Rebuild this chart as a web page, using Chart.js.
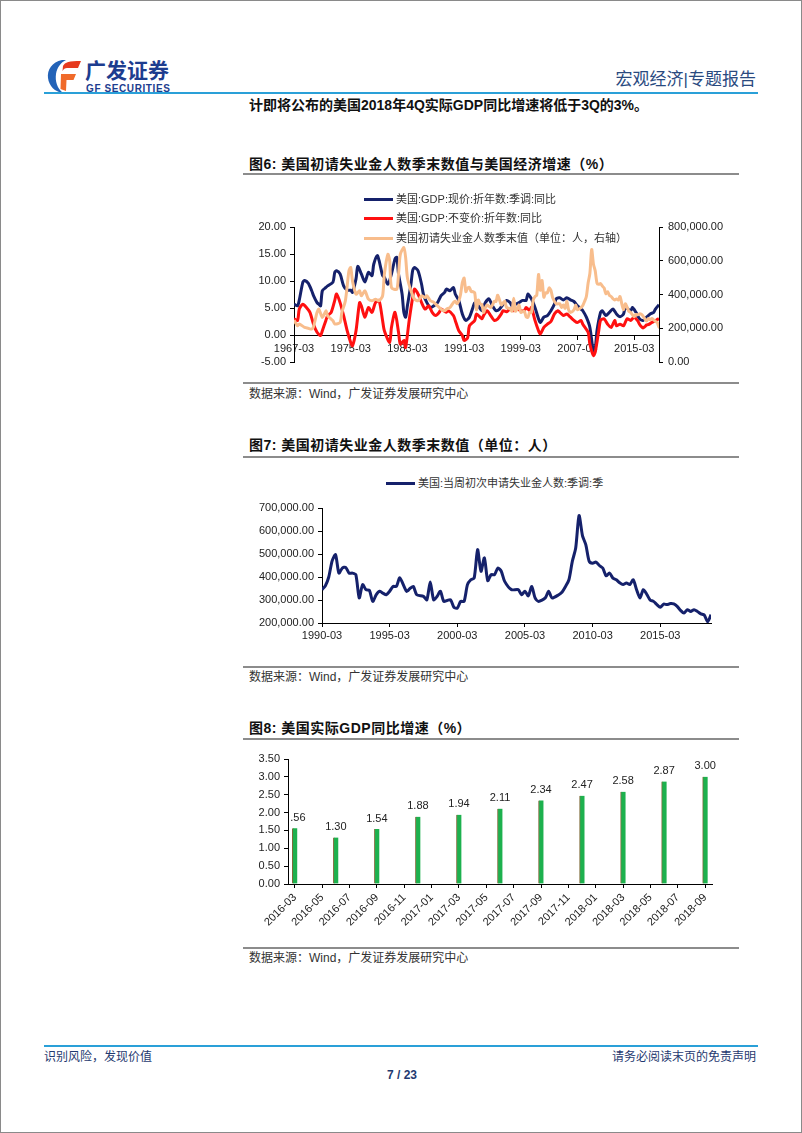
<!DOCTYPE html>
<html>
<head>
<meta charset="utf-8">
<script src="https://cdn.jsdelivr.net/npm/chart.js@4.4.0/dist/chart.umd.min.js"></script>
<style>
html,body{margin:0;padding:0;background:#fff;}
#page{position:relative;width:802px;height:1133px;overflow:hidden;box-sizing:border-box;border:1px solid #8a8a8a;font-family:"Liberation Sans","Noto Sans CJK SC",sans-serif;}
.abs{position:absolute;white-space:nowrap;}
.title{left:248px;font-weight:bold;font-size:14px;line-height:20px;letter-spacing:0.5px;color:#111;}
.rule{position:absolute;left:242px;width:496px;height:2px;background:#8c8c8c;}
.src{left:248px;font-size:12px;line-height:16px;color:#333;}
.leg{position:absolute;font-size:11px;line-height:14px;color:#333;white-space:nowrap;display:flex;align-items:center;}
.leg i{display:inline-block;width:29px;height:3px;margin-right:3px;}
canvas{position:absolute;}
</style>
</head>
<body>
<div id="page">
  <!-- header -->
  <svg class="abs" style="left:44px;top:56px" width="38" height="38" viewBox="0 0 38 38">
    <path d="M17 3 C7 5 2 13 3 21 C4 29 10 35 18 36 C12 31 10 24 11 17 C12 11 15 6 21 3 Z" fill="#2363b8"/>
    <path d="M18 9 C20 5 24 4 36 4 L33 11 L22 11 C20 11 18.5 12 17.5 14 Z" fill="#e63a1e"/>
    <path d="M16 17 L31 17 L28.5 23 L21.5 23 L21 34 L15.5 32 Z" fill="#f06a2a"/>
  </svg>
  <div class="abs" style="left:84px;top:57px;font-size:21px;line-height:26px;font-weight:bold;color:#1d3d8f;">广发证券</div>
  <div class="abs" style="left:85px;top:82px;font-size:10px;line-height:11px;font-weight:bold;letter-spacing:0.6px;color:#1d3d8f;">GF SECURITIES</div>
  <div class="abs" style="right:45px;top:68px;font-size:17px;line-height:22px;color:#2a4a7f;">宏观经济|专题报告</div>
  <div class="abs" style="left:43px;top:91px;width:714px;height:2px;background:#2aa0d8;"></div>
  <div class="abs" style="left:248px;top:94px;font-size:14px;line-height:20px;font-weight:bold;color:#111;">计即将公布的美国2018年4Q实际GDP同比增速将低于3Q的3%。</div>

  <!-- figure 6 -->
  <div class="abs title" style="top:153px;">图6: 美国初请失业金人数季末数值与美国经济增速（%）</div>
  <div class="rule" style="top:172px;"></div>
  <canvas id="c6" width="500" height="190" style="left:240px;top:185px;width:500px;height:190px;"></canvas>
  <div id="leg6"></div>
  <div class="rule" style="top:381px;"></div>
  <div class="abs src" style="top:385px;">数据来源：Wind，广发证券发展研究中心</div>

  <!-- figure 7 -->
  <div class="abs title" style="top:434px;">图7: 美国初请失业金人数季末数值（单位：人）</div>
  <div class="rule" style="top:455px;"></div>
  <canvas id="c7" width="500" height="150" style="left:240px;top:492px;width:500px;height:150px;"></canvas>
  <div id="leg7"></div>
  <div class="rule" style="top:665px;"></div>
  <div class="abs src" style="top:668px;">数据来源：Wind，广发证券发展研究中心</div>

  <!-- figure 8 -->
  <div class="abs title" style="top:717px;">图8: 美国实际GDP同比增速（%）</div>
  <div class="rule" style="top:737px;"></div>
  <canvas id="c8" width="500" height="200" style="left:240px;top:745px;width:500px;height:200px;"></canvas>
  <div class="rule" style="top:946px;"></div>
  <div class="abs src" style="top:949px;">数据来源：Wind，广发证券发展研究中心</div>

  <!-- footer -->
  <div class="abs" style="left:43px;top:1044px;width:714px;height:2px;background:#2aa0d8;"></div>
  <div class="abs" style="left:43px;top:1048px;font-size:12px;line-height:16px;color:#1f3a70;">识别风险，发现价值</div>
  <div class="abs" style="right:45px;top:1048px;font-size:12px;line-height:16px;color:#1f3a70;">请务必阅读末页的免责声明</div>
  <div class="abs" style="left:0;width:802px;text-align:center;top:1066px;font-size:12px;line-height:16px;font-weight:bold;color:#1f3a70;">7 / 23</div>
</div>

<script>
// ---------- DATA ----------
// time values are decimal years where YYYY.00 = YYYY-03 (quarter-end), .25 = -06, .50 = -09, .75 = -12

// Figure 6: US nominal GDP yoy (%)
const nominalGdpTime = [1967,1967.5,1967.75,1968.25,1968.5,1969,1969.5,1969.75,1970.25,1970.5,1970.75,1971,1971.5,1971.75,1972.5,1972.75,1973,1973.5,1974,1974.5,1975,1975.25,1975.75,1976,1976.5,1977,1977.5,1978,1978.25,1978.75,1979,1979.5,1979.75,1980.25,1980.75,1981.25,1981.5,1981.75,1982.25,1982.5,1982.75,1983,1983.5,1983.75,1984,1984.5,1985,1985.25,1985.75,1986.25,1986.75,1987.25,1987.75,1988.25,1988.5,1989,1989.5,1989.75,1990.25,1990.75,1991.25,1991.75,1992.25,1992.5,1993,1993.5,1994,1994.5,1995,1995.5,1996,1996.5,1997,1997.5,1997.75,1998.25,1998.75,1999.25,1999.75,2000,2000.5,2001,2001.5,2001.75,2002.25,2002.75,2003.25,2003.75,2004,2004.5,2005,2005.5,2006,2006.5,2007,2007.5,2007.75,2008.25,2008.75,2009.25,2009.5,2009.75,2010.25,2010.5,2011,2011.5,2012,2012.5,2013,2013.5,2013.75,2014.5,2014.75,2015.25,2015.75,2016.25,2016.75,2017.25,2017.75,2018,2018.5];
const nominalGdpYoY = [5.7,5.4,6.5,9.8,10.1,9.6,8.2,7.3,6.0,5.7,5.4,8.2,8.8,9.1,9.8,11.6,11.9,11.3,9.1,8.3,8.3,7.9,10.4,12.7,11.3,9.8,11.6,11.0,13.1,14.7,13.8,11.0,10.7,9.4,11.3,14.1,14.4,11.3,7.6,4.2,3.3,5.4,9.4,12.0,12.5,11.9,9.4,7.6,6.0,5.1,5.4,6.0,7.3,7.9,8.5,8.2,8.8,7.6,6.4,3.9,2.7,3.3,5.1,6.0,5.4,4.5,6.0,6.7,5.4,4.5,4.8,5.7,6.4,6.0,5.4,5.7,6.0,6.4,6.4,7.6,6.7,5.1,3.0,2.3,3.3,3.6,4.5,5.7,6.7,6.9,6.5,6.9,6.5,6.2,5.4,4.8,4.5,3.3,1.4,-3.2,-2.6,0.8,4.2,4.5,3.6,4.2,4.8,3.9,3.4,3.9,5.1,4.5,5.1,4.2,3.0,2.7,3.3,3.9,4.2,4.8,5.6];

// Figure 6: US real GDP yoy (%)
const realGdpTime = [1967,1967.5,1967.75,1968.25,1968.75,1969.25,1969.75,1970.25,1970.75,1971,1971.5,1971.75,1972.25,1972.75,1973,1973.5,1974,1974.5,1975,1975.25,1975.75,1976.25,1976.5,1977,1977.5,1978,1978.5,1979,1979.5,1979.75,1980.5,1980.75,1981.25,1981.75,1982,1982.5,1982.75,1983.25,1983.75,1984,1984.5,1985,1985.5,1986,1986.5,1987,1987.5,1987.75,1988.5,1988.75,1989.5,1989.75,1990.25,1990.75,1991,1991.5,1991.75,1992.5,1992.75,1993.5,1993.75,1994.25,1994.75,1995.25,1995.75,1996.25,1996.5,1997,1997.5,1998,1998.5,1999,1999.5,1999.75,2000.25,2000.5,2001,2001.5,2001.75,2002.25,2002.75,2003.25,2003.75,2004.25,2004.5,2005,2005.5,2006,2006.5,2007,2007.5,2007.75,2008.5,2008.75,2009.25,2009.5,2010,2010.25,2010.75,2011.25,2011.75,2012.25,2012.5,2013,2013.5,2014,2014.5,2015,2015.5,2015.75,2016,2016.25,2016.5,2016.75,2017,2017.25,2017.5,2017.75,2018,2018.25,2018.5];
const realGdpYoY = [3.0,2.7,4.8,5.7,5.1,4.2,2.0,0.5,-0.1,0.8,2.7,3.6,4.2,6.4,7.6,6.0,3.6,0.8,-1.4,-2.0,0.8,6.0,5.4,3.3,5.1,4.2,6.0,6.4,2.7,0.8,-1.4,1.4,4.2,0.5,-1.7,-1.0,-2.3,2.7,7.0,8.5,7.6,6.0,4.8,5.4,4.2,3.6,4.2,4.8,4.2,4.5,3.6,2.7,0.8,-0.1,-1.0,-0.5,1.7,2.7,3.9,3.0,3.6,4.5,3.6,2.7,3.0,3.9,4.5,4.3,4.8,4.5,4.8,4.5,4.5,5.1,4.5,5.1,2.7,0.8,0.2,1.4,2.0,2.5,3.9,4.5,4.2,3.6,3.9,3.3,2.7,2.3,2.7,2.0,0.5,-1.7,-3.8,-3.2,0.8,2.7,3.0,2.0,1.4,2.7,1.7,2.0,1.7,3.0,2.7,3.3,2.6,2.0,1.56,1.30,1.54,1.88,1.94,2.11,2.34,2.47,2.58,2.87,3.00];

// Figures 6 & 7: US initial jobless claims, quarter-end value (thousands of persons)
const claimsTime = [1967,1967.5,1967.75,1968.5,1969,1969.5,1969.75,1970.25,1970.5,1971,1971.5,1971.75,1972.5,1972.75,1973.5,1973.75,1974.25,1974.75,1975,1975.25,1975.75,1976.25,1976.5,1977,1977.5,1978,1978.5,1979,1979.5,1979.75,1980.25,1980.5,1980.75,1981.5,1981.75,1982,1982.5,1982.75,1983,1983.5,1984,1984.5,1985,1985.5,1985.75,1986.25,1986.75,1987.25,1987.75,1988.25,1988.5,1989,1989.5,1989.75,
  1990,1990.25,1990.5,1990.75,1991,1991.25,1991.5,1991.75,1992,1992.25,1992.5,1992.75,1993,1993.25,1993.5,1993.75,1994,1994.25,1994.5,1994.75,1995,1995.25,1995.5,1995.75,1996.25,1996.5,1996.75,1997,1997.5,1997.75,1998,1998.25,1998.5,1998.75,1999,1999.25,1999.5,1999.75,2000,2000.25,2000.5,2000.75,2001,2001.25,2001.5,2001.75,2002,2002.25,2002.5,2002.75,2003,2003.25,2003.5,2004,2004.5,2004.75,2005,2005.25,2005.5,2005.75,2006,2006.5,2006.75,2007,2007.5,2007.75,2008,2008.25,2008.5,2008.75,2009,2009.25,2009.5,2009.75,2010,2010.25,2010.5,2010.75,2011,2011.25,2011.5,2011.75,2012,2012.25,2012.5,2012.75,2013,2013.25,2013.5,2013.75,2014,2014.25,2014.5,2014.75,2015,2015.25,2015.5,2015.75,2016,2016.25,2016.5,2016.75,2017,2017.25,2017.5,2017.75,2018,2018.25,2018.5,2018.75];
const claimsK = [248,215,225,205,200,195,209,294,313,264,303,274,244,225,234,294,363,540,560,481,402,422,392,422,372,363,372,363,392,520,638,599,441,431,520,638,678,619,500,422,372,363,392,382,392,363,353,333,313,303,313,323,353,360,
  345,362,400,470,497,417,439,442,417,417,410,309,367,345,342,294,322,338,330,323,338,359,359,396,338,350,359,323,316,301,378,301,315,338,294,298,301,268,265,294,294,367,388,396,519,425,483,384,410,410,439,425,381,345,345,323,338,318,359,309,294,309,338,309,323,335,359,388,468,526,667,580,540,468,460,465,450,439,405,417,395,388,375,367,374,367,388,345,309,345,325,300,294,280,268,282,280,285,283,272,255,243,258,250,258,250,240,235,205,236];

const fig6Names = ['美国:GDP:现价:折年数:季调:同比','美国:GDP:不变价:折年数:同比','美国初请失业金人数季末值（单位：人，右轴）'];
const fig6XTicks = [1967,1975,1983,1991,1999,2007,2015];

const fig7Name = '美国:当周初次申请失业金人数:季调:季';
const fig7XTicks = [1990,1995,2000,2005,2010,2015];

// Figure 8: US real GDP yoy (%)
const fig8Quarters = ['2016-03','2016-06','2016-09','2016-12','2017-03','2017-06','2017-09','2017-12','2018-03','2018-06','2018-09'];
const fig8Values = [1.56,1.30,1.54,1.88,1.94,2.11,2.34,2.47,2.58,2.87,3.00];
const fig8XLabels = ['2016-03','2016-05','2016-07','2016-09','2016-11','2017-01','2017-03','2017-05','2017-07','2017-09','2017-11','2018-01','2018-03','2018-05','2018-07','2018-09'];

// ---------- STYLE ----------
const NAVY = '#15216b', RED = '#ff1010', PEACH = '#f8bd8c', GREEN = '#1db14e';
const FONT = '"Liberation Sans", Arial, sans-serif';
Chart.defaults.font.family = FONT;
Chart.defaults.font.size = 11;
Chart.defaults.color = '#222';
Chart.defaults.animation = false;
Chart.defaults.events = [];

const pts = (ts, vs, k) => ts.map((t, i) => ({x: t, y: vs[i] * (k || 1)}));
const fmt2 = v => Number(v).toLocaleString('en-US', {minimumFractionDigits: 2, maximumFractionDigits: 2});
const qLabel = v => Math.floor(v) + '-03';
function axis(extra) {
  return Object.assign({
    border: {display: true, color: '#000', width: 1},
    grid: {display: true, drawOnChartArea: false, drawTicks: true, tickLength: 4, tickColor: '#000', tickWidth: 1, offset: false},
  }, extra);
}
function legend(el, items, left, tops) {
  const box = document.getElementById(el);
  items.forEach((it, i) => {
    const d = document.createElement('div');
    d.className = 'leg';
    d.style.left = left + 'px';
    d.style.top = (tops[i] - 7) + 'px';
    d.innerHTML = '<i style="background:' + it.color + '"></i>' + it.name;
    box.appendChild(d);
  });
}

// ---------- FIGURE 6 ----------
const fig6Colors = [NAVY, RED, PEACH];
new Chart(document.getElementById('c6'), {
  type: 'line',
  data: {
    datasets: [
      {label: fig6Names[0], data: pts(nominalGdpTime, nominalGdpYoY), borderColor: NAVY, yAxisID: 'y', order: 3},
      {label: fig6Names[1], data: pts(realGdpTime, realGdpYoY), borderColor: RED, yAxisID: 'y', order: 2},
      {label: fig6Names[2], data: pts(claimsTime, claimsK, 1000), borderColor: PEACH, yAxisID: 'y1', order: 1},
    ]
  },
  options: {
    responsive: false,
    layout: {padding: {top: 41, bottom: 14, left: 0, right: 0}},
    elements: {line: {borderWidth: 3, tension: 0.25}, point: {radius: 0}},
    plugins: {legend: {display: false}, tooltip: {enabled: false}},
    scales: {
      x: axis({
        type: 'linear', min: 1967, max: 2018.5, position: {y: 0},
        afterBuildTicks: s => { s.ticks = fig6XTicks.map(v => ({value: v})); },
        ticks: {autoSkip: false, maxRotation: 0, minRotation: 0, padding: 3, callback: qLabel},
      }),
      y: axis({
        type: 'linear', position: 'left', min: -5, max: 20,
        afterFit: s => { s.width = 53; },
        ticks: {stepSize: 5, padding: 4, callback: v => Number(v).toFixed(2)},
      }),
      y1: axis({
        type: 'linear', position: 'right', min: 0, max: 800000,
        afterFit: s => { s.width = 82; },
        ticks: {stepSize: 200000, padding: 5, callback: fmt2},
      }),
    }
  }
});
legend('leg6', fig6Names.map((n, i) => ({name: n, color: fig6Colors[i]})), 363, [198, 217, 237]);

// ---------- FIGURE 7 ----------
const c7Time = claimsTime.filter(t => t >= 1990);
const c7Vals = claimsK.slice(claimsTime.length - c7Time.length);
new Chart(document.getElementById('c7'), {
  type: 'line',
  data: {datasets: [{label: fig7Name, data: pts(c7Time, c7Vals, 1000), borderColor: NAVY}]},
  options: {
    responsive: false,
    layout: {padding: {top: 15, bottom: 0, left: 0, right: 30}},
    elements: {line: {borderWidth: 3, tension: 0.25}, point: {radius: 0}},
    plugins: {legend: {display: false}, tooltip: {enabled: false}},
    scales: {
      x: axis({
        type: 'linear', min: 1990, max: 2018.75,
        afterBuildTicks: s => { s.ticks = fig7XTicks.map(v => ({value: v})); },
        afterFit: s => { s.height = 20; },
        ticks: {autoSkip: false, maxRotation: 0, minRotation: 0, padding: 2, callback: qLabel},
      }),
      y: axis({
        type: 'linear', min: 200000, max: 700000,
        afterFit: s => { s.width = 81; },
        ticks: {stepSize: 100000, padding: 4, callback: fmt2},
      }),
    }
  }
});
legend('leg7', [{name: fig7Name, color: NAVY}], 385, [482]);

// ---------- FIGURE 8 ----------
const monthIndex = s => { const [y, m] = s.split('-').map(Number); return (y - 2016) * 12 + (m - 3); };
const barLabels = {
  id: 'barLabels',
  afterDatasetsDraw(chart) {
    const {ctx, chartArea} = chart;
    const meta = chart.getDatasetMeta(0);
    ctx.save();
    ctx.beginPath();
    ctx.rect(chartArea.left + 2, 0, chart.width, chart.height);
    ctx.clip();
    ctx.font = '11px ' + FONT;
    ctx.fillStyle = '#222';
    ctx.textAlign = 'center';
    ctx.textBaseline = 'bottom';
    meta.data.forEach((bar, i) => ctx.fillText(fig8Values[i].toFixed(2), bar.x, bar.y - 5));
    ctx.restore();
  }
};
new Chart(document.getElementById('c8'), {
  type: 'bar',
  data: {datasets: [{
    data: fig8Quarters.map((q, i) => ({x: monthIndex(q), y: fig8Values[i]})),
    backgroundColor: GREEN, borderColor: '#7d6a3a',
    borderWidth: {left: 1, right: 0, top: 0, bottom: 0}, borderSkipped: false,
    barThickness: 5,
  }]},
  plugins: [barLabels],
  options: {
    responsive: false,
    layout: {padding: {top: 13, bottom: 0, left: 0, right: 29}},
    plugins: {legend: {display: false}, tooltip: {enabled: false}},
    scales: {
      x: axis({
        type: 'linear', min: -0.5, max: 30.5, offset: false,
        afterBuildTicks: s => { s.ticks = fig8XLabels.map((l, i) => ({value: i * 2})); },
        afterFit: s => { s.height = 62; },
        ticks: {autoSkip: false, minRotation: 45, maxRotation: 45, padding: 3, callback: v => fig8XLabels[Math.round(v / 2)]},
      }),
      y: axis({
        type: 'linear', min: 0, max: 3.5,
        afterFit: s => { s.width = 47; },
        ticks: {stepSize: 0.5, padding: 4, callback: v => Number(v).toFixed(2)},
      }),
    }
  }
});
</script>
</body>
</html>
